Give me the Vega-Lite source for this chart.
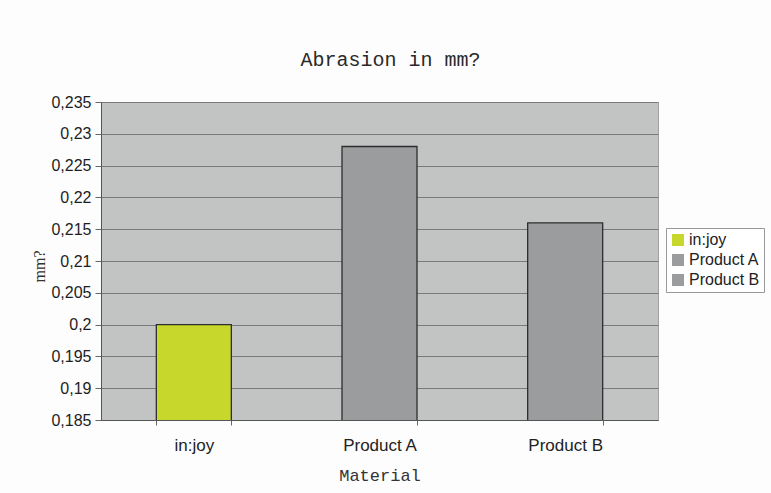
{
  "$schema": "https://vega.github.io/schema/vega-lite/v6.json",
  "width": 557,
  "height": 318,
  "autosize": {"type": "none"},
  "padding": {"left": 101, "top": 102, "right": 113, "bottom": 73},
  "background": "#fdfdfd",
  "title": {
    "text": "Abrasion in mm?",
    "font": "Liberation Mono",
    "fontSize": 20,
    "fontWeight": "normal",
    "color": "#2a2a2a",
    "offset": 24,
    "dx": 11
  },
  "data": {
    "values": [
      {"Material": "in:joy", "value": 0.2},
      {"Material": "Product A", "value": 0.228},
      {"Material": "Product B", "value": 0.216}
    ]
  },
  "config": {
    "view": {"fill": "#c2c3c3", "stroke": "#a0a0a0", "strokeWidth": 1}
  },
  "mark": {"type": "bar", "stroke": "#2e2e2e", "strokeWidth": 1.3, "clip": true},
  "encoding": {
    "x": {
      "field": "Material",
      "type": "nominal",
      "sort": null,
      "scale": {"paddingInner": 0.596, "paddingOuter": 0.298},
      "axis": {
        "title": "Material",
        "titleFont": "Liberation Mono",
        "titleFontSize": 17,
        "titleFontWeight": "normal",
        "titleColor": "#333333",
        "titlePadding": 14,
        "labelFont": "Liberation Sans",
        "labelFontSize": 17,
        "labelColor": "#222222",
        "labelAngle": 0,
        "labelPadding": 12,
        "tickBand": "extent",
        "tickColor": "#666666",
        "tickSize": 5,
        "domainColor": "#555555",
        "grid": false
      }
    },
    "y": {
      "field": "value",
      "type": "quantitative",
      "scale": {"domain": [0.185, 0.235], "nice": false, "zero": false},
      "axis": {
        "title": "mm?",
        "titleFont": "Liberation Serif",
        "titleFontSize": 16,
        "titleFontWeight": "normal",
        "titleColor": "#333333",
        "titlePadding": 3,
        "titleY": 164,
        "values": [0.185, 0.19, 0.195, 0.2, 0.205, 0.21, 0.215, 0.22, 0.225, 0.23, 0.235],
        "labelExpr": "replace(format(datum.value, '.3~f'), '.', ',')",
        "labelFont": "Liberation Sans",
        "labelFontSize": 16,
        "labelColor": "#1e1e1e",
        "labelPadding": 4,
        "tickColor": "#666666",
        "tickSize": 6,
        "domainColor": "#555555",
        "grid": true,
        "gridColor": "#7a7a7a",
        "gridWidth": 1
      }
    },
    "color": {
      "field": "Material",
      "type": "nominal",
      "sort": null,
      "scale": {"domain": ["in:joy", "Product A", "Product B"], "range": ["#c8d72b", "#9a9c9d", "#9a9c9d"]},
      "legend": {
        "title": null,
        "orient": "none",
        "legendX": 565,
        "legendY": 126,
        "symbolType": "square",
        "symbolSize": 144,
        "symbolStrokeWidth": 0,
        "labelFont": "Liberation Sans",
        "labelFontSize": 16,
        "labelColor": "#222222",
        "labelOffset": 3,
        "rowPadding": 4,
        "padding": 4,
        "strokeColor": "#999999",
        "fillColor": "#ffffff"
      }
    }
  }
}
